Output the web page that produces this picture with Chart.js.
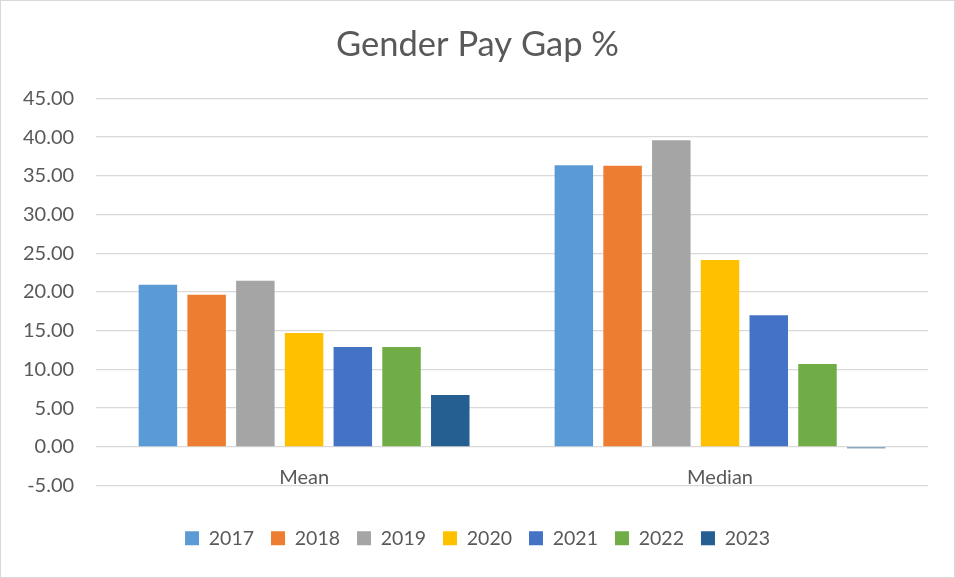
<!DOCTYPE html>
<html>
<head>
<meta charset="utf-8">
<script src="https://cdn.jsdelivr.net/npm/chart.js@4/dist/chart.umd.min.js"></script>
<style>
  html, body { margin: 0; padding: 0; background: #fff; }
  #wrap { width: 955px; height: 578px; box-sizing: border-box; border: 1px solid #d9d9d9; }
</style>
</head>
<body>
<div id="wrap"><canvas id="grafico"></canvas></div>
<script>
// categorias y series
const categorias = ["Mean", "Median"];
const anios = ["2017", "2018", "2019", "2020", "2021", "2022", "2023"];
const v2017 = [20.94, 36.36];
const v2018 = [19.65, 36.30];
const v2019 = [21.46, 39.60];
const v2020 = [14.70, 24.13];
const v2021 = [12.90, 17.00];
const v2022 = [12.90, 10.70];
const v2023 = [6.70, -0.20];
const colores = ["#5b9bd5", "#ed7d31", "#a5a5a5", "#ffc000", "#4472c4", "#70ad47", "#255e91"];

const series = [v2017, v2018, v2019, v2020, v2021, v2022, v2023];
const gris = "#595959";
const fuente = "Lato, 'Open Sans', sans-serif";

new Chart(document.getElementById("grafico").getContext("2d"), {
  type: "bar",
  data: {
    labels: categorias,
    datasets: series.map((s, i) => ({
      label: anios[i],
      data: s,
      backgroundColor: colores[i],
      categoryPercentage: 0.82,
      barPercentage: 0.79,
    })),
  },
  options: {
    responsive: true,
    maintainAspectRatio: false,
    animation: false,
    layout: {
      padding: { left: 0, right: 0, top: 10, bottom: 19 },
    },
    plugins: {
      title: {
        display: true,
        text: "Gender Pay Gap %",
        color: gris,
        font: { family: fuente, size: 34.5, weight: "normal" },
        padding: { top: 13, bottom: 33 },
      },
      legend: {
        position: "bottom",
        // titulo vacio solo para dejar espacio sobre la leyenda
        title: { display: true, text: " ", font: { size: 10 }, padding: 7 },
        labels: {
          color: gris,
          font: { family: fuente, size: 19.5 },
          boxWidth: 14,
          boxHeight: 14,
          padding: 17,
        },
      },
      tooltip: { enabled: false },
    },
    scales: {
      x: {
        position: { y: 0 },
        grid: { display: false },
        border: { display: false },
        ticks: {
          color: gris,
          font: { family: fuente, size: 20 },
          padding: 11,
        },
      },
      y: {
        min: -5,
        max: 45,
        grid: { color: "#d9d9d9", lineWidth: 1.3, drawTicks: false },
        border: { display: false },
        ticks: {
          stepSize: 5,
          color: gris,
          font: { family: fuente, size: 20 },
          padding: 22,
          callback: (v) => v.toFixed(2),
        },
      },
      // eje vacio a la derecha, solo margen (asi el titulo queda centrado)
      margen: {
        position: "right",
        grid: { display: false },
        border: { display: false },
        ticks: { display: false },
        afterFit: (s) => { s.width = 26; },
      },
    },
  },
});
</script>
</body>
</html>
